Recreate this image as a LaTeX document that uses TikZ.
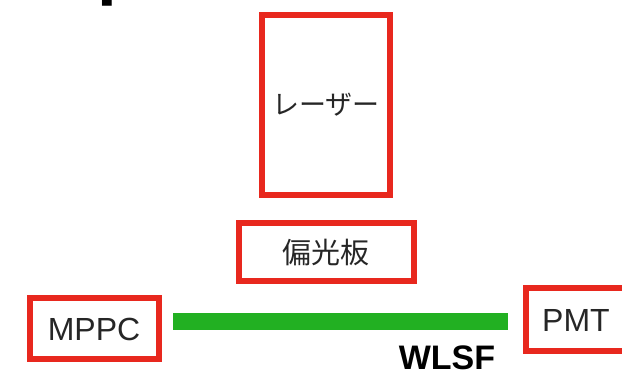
\documentclass[tikz,border=0pt]{standalone}
\usepackage{fontspec}
\setmainfont{Liberation Sans}
\newfontfamily\jpfont{Noto Sans CJK JP}
\usetikzlibrary{positioning}
\definecolor{boxred}{RGB}{232,40,30}
\definecolor{fibregreen}{RGB}{34,176,34}
\tikzset{part/.style={draw=boxred,line width=6pt,inner sep=0pt,text=black!85,font=\fontsize{32}{34}\selectfont},
  fibre/.style={draw=fibregreen,line width=17pt}}

\begin{document}
\begin{tikzpicture}[x=1pt,y=-1pt]
\useasboundingbox (0,0) rectangle (622,374);
% --- cut-off title at the top edge
\node[anchor=base west,inner sep=0pt,font=\bfseries\fontsize{71}{71}\selectfont] (title) at (97.3,-8) {p};
% --- laser and polariser
\node[part,minimum width=128.5pt,minimum height=180pt,font=\jpfont\fontsize{27}{30}\selectfont] (laser) at (325.75,105) {レーザー};
\node[part,minimum width=175.5pt,minimum height=58pt,font=\jpfont\fontsize{29}{32}\selectfont] (polar) at (326.25,252.5) {偏光板};
% --- readout on both fibre ends
\node[part,minimum width=129pt,minimum height=61pt] (mppc) at (94,329) {MPPC};
\node[part,minimum width=100pt,minimum height=63pt] (pmt) at (576,320) {PMT};
\coordinate (fibreL) at (173,321.5); \coordinate (fibreR) at (508,321.5);
\draw[fibre] (fibreL) -- (fibreR);
\node[anchor=base,inner sep=0pt,font=\bfseries\fontsize{34}{36}\selectfont] (wlsf) at (447,370) {WLSF};
\end{tikzpicture}
\end{document}
